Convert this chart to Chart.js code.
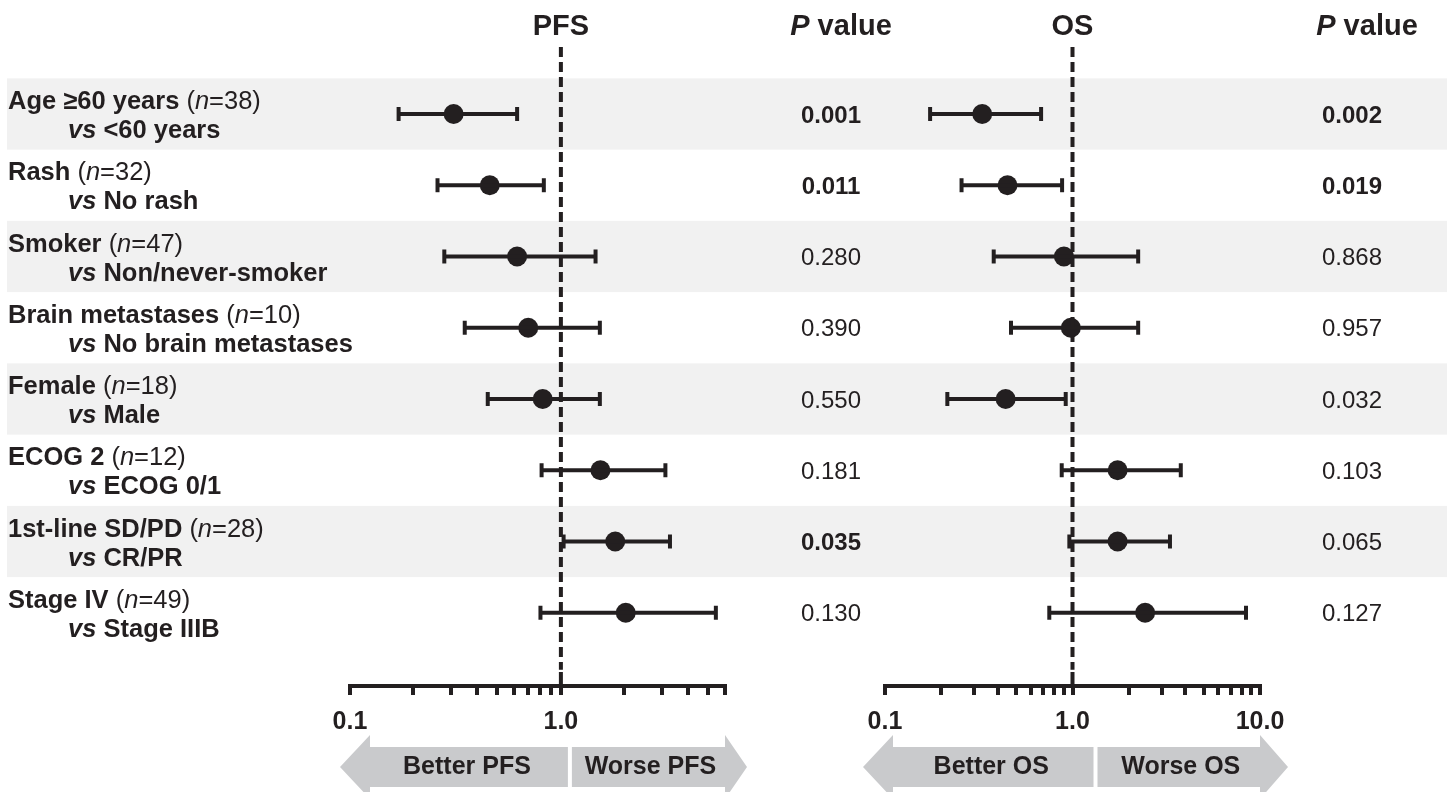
<!DOCTYPE html>
<html>
<head>
<meta charset="utf-8">
<script src="https://cdn.jsdelivr.net/npm/chart.js@4.4.1/dist/chart.umd.min.js"></script>
<style>
  body { margin: 0; background: #fff; }
  #wrap { position: relative; width: 1450px; height: 792px; overflow: hidden; }
  canvas { position: absolute; left: 0; top: 0; }
</style>
</head>
<body>
<div id="wrap">
  <canvas id="pfsChart" width="1450" height="792"></canvas>
  <canvas id="osChart" width="1450" height="792"></canvas>
</div>
<script>
// subgroup rows
const subgroups = ['Age \u226560 years', 'Rash', 'Smoker', 'Brain metastases', 'Female', 'ECOG 2', '1st-line SD/PD', 'Stage IV'];
const nCounts = [38, 32, 47, 10, 18, 12, 28, 49];
const comparators = ['<60 years', 'No rash', 'Non/never-smoker', 'No brain metastases', 'Male', 'ECOG 0/1', 'CR/PR', 'Stage IIIB'];

// PFS hazard ratios + 95% CI
const pfsHR    = [0.31, 0.46, 0.62, 0.70, 0.82, 1.54, 1.81, 2.03];
const pfsLower = [0.17, 0.26, 0.28, 0.35, 0.45, 0.81, 1.03, 0.80];
const pfsUpper = [0.62, 0.83, 1.46, 1.53, 1.53, 3.13, 3.29, 5.43];
const pfsP     = ['0.001', '0.011', '0.280', '0.390', '0.550', '0.181', '0.035', '0.130'];
const pfsBold  = [true, true, false, false, false, false, true, false];

// OS hazard ratios + 95% CI
const osHR    = [0.33, 0.45, 0.90, 0.98, 0.44, 1.74, 1.74, 2.44];
const osLower = [0.174, 0.256, 0.38, 0.47, 0.215, 0.876, 0.962, 0.752];
const osUpper = [0.68, 0.88, 2.24, 2.24, 0.92, 3.78, 3.31, 8.42];
const osP     = ['0.002', '0.019', '0.868', '0.957', '0.032', '0.103', '0.065', '0.127'];
const osBold  = [true, true, false, false, false, false, false, false];

// axis ticks
const pfsTicks = [0.1, 0.2, 0.3, 0.4, 0.5, 0.6, 0.7, 0.8, 0.9, 1, 2, 3, 4, 5, 6];
const osTicks = [0.1, 0.2, 0.3, 0.4, 0.5, 0.6, 0.7, 0.8, 0.9, 1, 2, 3, 4, 5, 6, 7, 8, 9, 10];
const tickLabels = [0.1, 1, 10];

const FONT = "'Liberation Sans', Arial, Helvetica, sans-serif";
const INK = '#231f20';
const Y_MIN = -0.94, Y_MAX = 8.028;

function runsWidth(ctx, runs, size) {
  let w = 0;
  runs.forEach(r => { ctx.font = r[1] + ' ' + size + 'px ' + FONT; w += ctx.measureText(r[0]).width; });
  return w;
}

function drawRuns(ctx, runs, x, y, size, align) {
  ctx.textBaseline = 'middle';
  ctx.textAlign = 'left';
  ctx.fillStyle = INK;
  if (align === 'center') x -= runsWidth(ctx, runs, size) / 2;
  runs.forEach(r => {
    ctx.font = r[1] + ' ' + size + 'px ' + FONT;
    ctx.fillText(r[0], x, y);
    x += ctx.measureText(r[0]).width;
  });
}

function drawArrows(ctx, xs, p) {
  const a = p.arrow;
  const lo = xs.getPixelForValue(p.min), one = xs.getPixelForValue(1), hi = xs.getPixelForValue(p.max);
  const mid = 767;
  ctx.fillStyle = '#c9cacc';
  // left arrow
  ctx.beginPath();
  ctx.moveTo(lo + a.tipL, mid);
  ctx.lineTo(lo + a.headL, mid - 32);
  ctx.lineTo(lo + a.headL, mid - 20);
  ctx.lineTo(one + a.split, mid - 20);
  ctx.lineTo(one + a.split, mid + 20);
  ctx.lineTo(lo + a.headL, mid + 20);
  ctx.lineTo(lo + a.headL, mid + 32);
  ctx.closePath();
  ctx.fill();
  // right arrow
  const rs = one + a.split + 4;
  ctx.beginPath();
  ctx.moveTo(hi + a.tipR, mid);
  ctx.lineTo(hi, mid - 32);
  ctx.lineTo(hi, mid - 20);
  ctx.lineTo(rs, mid - 20);
  ctx.lineTo(rs, mid + 20);
  ctx.lineTo(hi, mid + 20);
  ctx.lineTo(hi, mid + 32);
  ctx.closePath();
  ctx.fill();
  drawRuns(ctx, [['Better ' + p.name, 'bold']], (lo + a.headL + one + a.split) / 2 - 2, mid, 25, 'center');
  drawRuns(ctx, [['Worse ' + p.name, 'bold']], (rs + hi) / 2 + 2, mid, 25, 'center');
}

function makePanel(id, p) {
  const datasets = [];
  // reference line at HR = 1
  datasets.push({
    data: [{x: 1, y: Y_MIN}, {x: 1, y: 7.80}],
    showLine: true, borderColor: INK, borderWidth: 4, borderDash: [10, 5],
    pointRadius: 0, clip: false
  });
  datasets.push({
    data: [{x: 1, y: 7.83}, {x: 1, y: Y_MAX}],
    showLine: true, borderColor: INK, borderWidth: 4,
    pointRadius: 0, clip: false
  });
  // confidence intervals with end caps
  for (let i = 0; i < subgroups.length; i++) {
    datasets.push({
      data: [{x: p.lower[i], y: i}, {x: p.upper[i], y: i}],
      showLine: true, borderColor: INK, borderWidth: 4,
      pointStyle: 'line', rotation: 90, pointRadius: 7,
      pointBorderWidth: 4, pointBorderColor: INK, clip: false
    });
  }
  // point estimates
  datasets.push({
    data: p.hr.map((v, i) => ({x: v, y: i})),
    pointRadius: 10, pointBackgroundColor: INK, pointBorderWidth: 0, clip: false
  });

  const textPlugin = {
    id: 'text_' + id,
    beforeDraw(chart) {
      if (!p.bands) return;
      const ctx = chart.ctx, ys = chart.scales.y;
      ctx.save();
      ctx.fillStyle = '#f1f1f1';
      for (let i = 0; i < subgroups.length; i += 2) {
        const t = ys.getPixelForValue(i - 0.5), b = ys.getPixelForValue(i + 0.5);
        ctx.fillRect(7, t, 1440, b - t);
      }
      ctx.restore();
    },
    afterDraw(chart) {
      const ctx = chart.ctx, xs = chart.scales.x, ys = chart.scales.y;
      ctx.save();
      drawRuns(ctx, [[p.name, 'bold']], xs.getPixelForValue(1), 27, 29, 'center');
      drawRuns(ctx, [['P', 'italic bold'], [' value', 'bold']], p.headX, 27, 29, 'center');
      for (let i = 0; i < subgroups.length; i++) {
        const yc = ys.getPixelForValue(i);
        drawRuns(ctx, [[p.pvals[i], p.bold[i] ? 'bold' : 'normal']], p.pX, yc + 2, 24, 'center');
        if (p.bands) {
          drawRuns(ctx, [[subgroups[i], 'bold'], [' (', 'normal'], ['n', 'italic'], ['=' + nCounts[i] + ')', 'normal']], 8, yc - 12, 25.5);
          drawRuns(ctx, [['vs', 'italic bold'], [' ' + comparators[i], 'bold']], 68, yc + 17, 25.5);
        }
      }
      drawArrows(ctx, xs, p);
      ctx.restore();
    }
  };

  return new Chart(document.getElementById(id), {
    type: 'scatter',
    data: {datasets},
    options: {
      responsive: false,
      animation: false,
      devicePixelRatio: 1,
      layout: {padding: {left: p.left, right: 1450 - p.right, top: 47, bottom: 46}},
      plugins: {legend: {display: false}, tooltip: {enabled: false}},
      scales: {
        x: {
          type: 'logarithmic', min: p.min, max: p.max,
          afterBuildTicks: s => { s.ticks = p.ticks.map(v => ({value: v})); },
          afterFit: s => { s.height = 60; },
          grid: {display: true, drawOnChartArea: false, drawTicks: true, tickLength: 9, lineWidth: 4, color: INK},
          border: {display: true, width: 4, color: INK},
          ticks: {
            autoSkip: false, maxRotation: 0, padding: 12, color: INK,
            font: {family: FONT, size: 25, weight: 'bold'},
            callback: v => tickLabels.includes(v) ? v.toFixed(1) : ''
          }
        },
        y: {type: 'linear', min: Y_MIN, max: Y_MAX, reverse: true, display: false}
      }
    },
    plugins: [textPlugin]
  });
}

makePanel('pfsChart', {
  name: 'PFS', hr: pfsHR, lower: pfsLower, upper: pfsUpper, pvals: pfsP, bold: pfsBold,
  min: 0.1, max: 6, ticks: pfsTicks, left: 350, right: 725,
  pX: 831, headX: 841, bands: true,
  arrow: {tipL: -10, headL: 20, split: 7, tipR: 22}
});
makePanel('osChart', {
  name: 'OS', hr: osHR, lower: osLower, upper: osUpper, pvals: osP, bold: osBold,
  min: 0.1, max: 10, ticks: osTicks, left: 885, right: 1260,
  pX: 1352, headX: 1367, bands: false,
  arrow: {tipL: -22, headL: 8, split: 21, tipR: 28}
});
</script>
</body>
</html>
